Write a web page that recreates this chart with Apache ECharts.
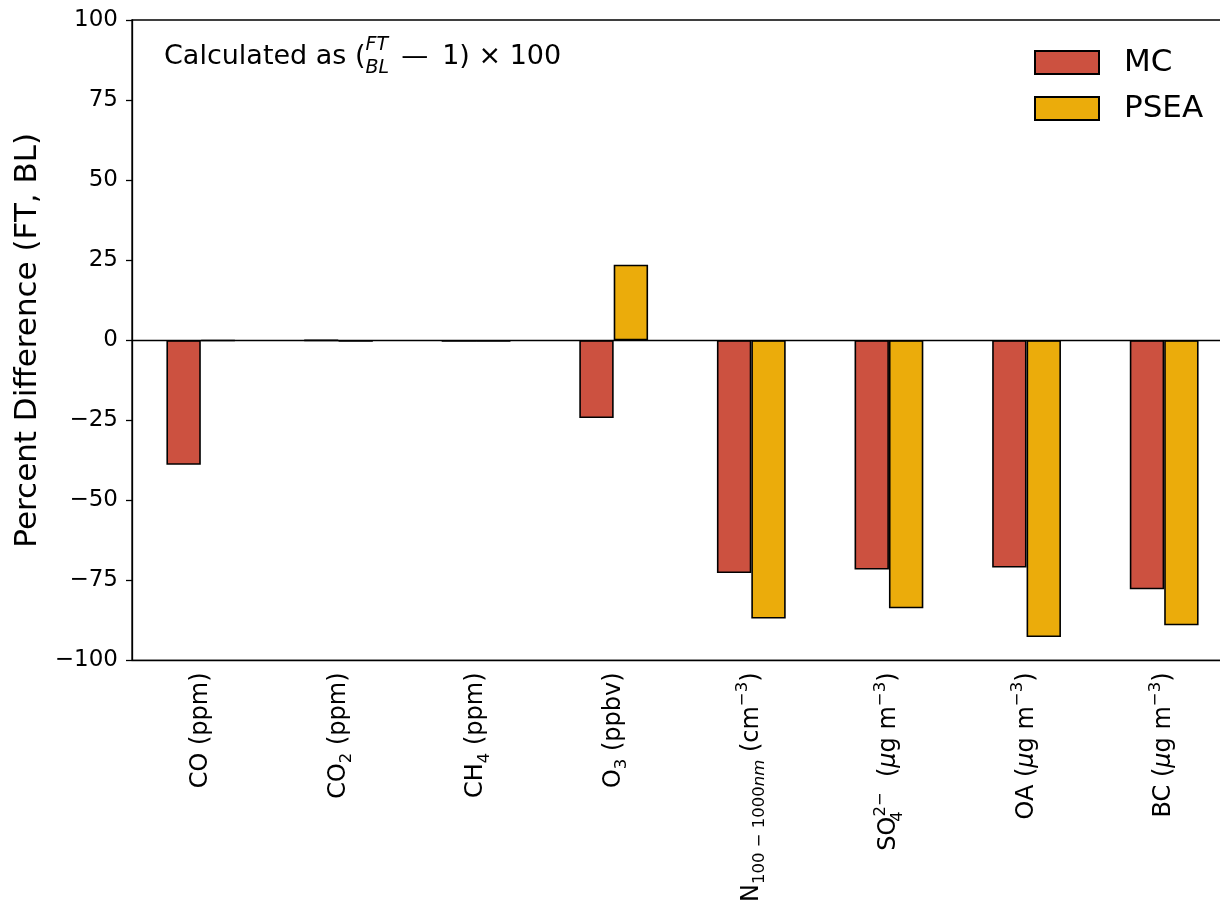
<!DOCTYPE html>
<html>
<head>
<meta charset="utf-8">
<script src="https://cdn.jsdelivr.net/npm/echarts@6/dist/echarts.min.js"></script>
<style>
  html, body { margin: 0; padding: 0; background: #fff; overflow: hidden; }
  /* canvas is a little wider than the window; the plot frame runs off the right edge */
  #chart { width: 1240px; height: 905px; }
</style>
</head>
<body>
<div id="chart"></div>
<script>
// Species measured (rich-text labels for subscripts/superscripts)
const categories = [
  'CO (ppm)',
  'CO{sub|2} (ppm)',
  'CH{sub|4} (ppm)',
  'O{sub|3} (ppbv)',
  'N{sub|100 − 1000}{subi|nm} (cm{sup|−3})',
  'SO{subz|4}{sup|2−}  ({it|μ}g m{sup|−3})',
  'OA ({it|μ}g m{sup|−3})',
  'BC ({it|μ}g m{sup|−3})'
];
// Percent difference free troposphere vs boundary layer
const mcValues   = [-38.9, -0.1, -0.5, -24.3, -72.7, -71.6, -71.0, -77.8];
const pseaValues = [-0.2, -0.5, -0.5, 23.6, -86.9, -83.7, -92.7, -89.0];
const seriesNames = ['MC', 'PSEA'];
const yTicks = { min: -100, max: 100, interval: 25 };

const FONT = 'DejaVu Sans';
const chart = echarts.init(document.getElementById('chart'), null, { renderer: 'canvas' });

const LH = 34;
const labelRich = {
  sub:  { fontFamily: FONT, fontSize: 16.5, color: '#000', verticalAlign: 'bottom', lineHeight: LH },
  subz: { fontFamily: FONT, fontSize: 16.5, color: '#000', verticalAlign: 'bottom', lineHeight: LH, width: 0, align: 'left' },
  subi: { fontFamily: FONT, fontSize: 16.5, fontStyle: 'italic', color: '#000', verticalAlign: 'bottom', lineHeight: LH },
  sup:  { fontFamily: FONT, fontSize: 16.5, color: '#000', verticalAlign: 'top', lineHeight: LH },
  it:   { fontFamily: FONT, fontSize: 24, fontStyle: 'italic', color: '#000', lineHeight: LH }
};

const barStyle = (color) => ({ color: color, borderColor: '#000', borderWidth: 1.6 });

chart.setOption({
  animation: false,
  backgroundColor: '#fff',
  title: {
    left: 164,
    top: 36,
    padding: 0,
    text: 'Calculated as ({fz|FT}{fd|BL}{gap|}—{gap2|}1) × 100',
    textStyle: {
      fontFamily: FONT, fontSize: 27, fontWeight: 'normal', color: '#000', lineHeight: 42,
      rich: {
        fz: { fontFamily: FONT, fontSize: 19, fontStyle: 'italic', color: '#000', verticalAlign: 'top', width: 0, align: 'left', lineHeight: 42 },
        fd: { fontFamily: FONT, fontSize: 19, fontStyle: 'italic', color: '#000', verticalAlign: 'bottom', lineHeight: 42 },
        gap: { width: 12 },
        gap2: { width: 14 }
      }
    }
  },
  legend: {
    data: seriesNames,
    orient: 'vertical',
    left: 1034,
    top: 47,
    padding: 0,
    itemWidth: 64,
    itemHeight: 23,
    itemGap: 15,
    icon: 'rect',
    textStyle: { fontFamily: FONT, fontSize: 31, color: '#000', lineHeight: 23, padding: [0, 0, 0, 20] }
  },
  grid: {
    left: 132, top: 20, width: 1101, height: 643,
    show: true, borderColor: '#000', borderWidth: 1.3, backgroundColor: 'transparent'
  },
  xAxis: {
    type: 'category',
    data: categories,
    boundaryGap: true,
    axisLine: { onZero: false, lineStyle: { color: '#000', width: 1.3 } },
    axisTick: { alignWithLabel: true, length: 6, lineStyle: { color: '#000', width: 1.3 } },
    axisLabel: {
      rotate: 90, margin: 12, interval: 0,
      fontFamily: FONT, fontSize: 24, color: '#000', lineHeight: LH,
      rich: labelRich
    },
    splitLine: { show: false }
  },
  yAxis: {
    type: 'value',
    min: yTicks.min, max: yTicks.max, interval: yTicks.interval,
    name: 'Percent Difference (FT, BL)',
    nameLocation: 'middle',
    nameGap: 80,
    nameTextStyle: { fontFamily: FONT, fontSize: 31, color: '#000' },
    axisLine: { show: true, lineStyle: { color: '#000', width: 1.3 } },
    axisTick: { show: true, length: 6, lineStyle: { color: '#000', width: 1.3 } },
    axisLabel: {
      fontFamily: FONT, fontSize: 23, color: '#000', margin: 14,
      formatter: (v) => String(v).replace('-', '−')
    },
    splitLine: { show: false }
  },
  series: [
    {
      name: seriesNames[0], type: 'bar', data: mcValues,
      barWidth: 34.4, barGap: '0%',
      itemStyle: barStyle('#CC5140'),
      markLine: {
        silent: true, symbol: 'none', label: { show: false },
        lineStyle: { color: '#000', type: 'solid', width: 1.3 },
        data: [{ yAxis: 0 }]
      }
    },
    {
      name: seriesNames[1], type: 'bar', data: pseaValues,
      barWidth: 34.4, barGap: '0%',
      itemStyle: barStyle('#EBAC0B')
    }
  ]
});
</script>
</body>
</html>
